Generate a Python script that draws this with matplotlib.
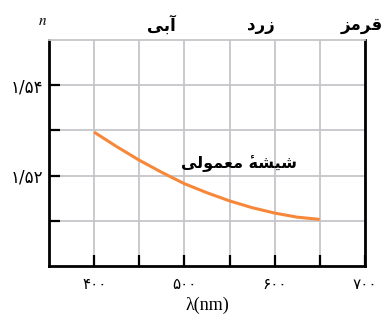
"""
ضریب شکست شیشهٔ معمولی بر حسب طول موج (نمودار کتاب فیزیک).
متن فارسی دستی شکل‌دهی می‌شود چون matplotlib شکل‌دهی عربی ندارد.
"""
import matplotlib
matplotlib.use("Agg")
import matplotlib.pyplot as plt
from matplotlib.ticker import FixedLocator

# داده‌ها (از روی شکل خوانده شده)
wavelength = [400, 425, 450, 475, 500, 525, 550, 575, 600, 625, 650]
n_glass = [1.5296, 1.5264, 1.5234, 1.5207, 1.5182, 1.5162, 1.5144, 1.5129, 1.5117, 1.5108, 1.5103]
xticks_major = [400, 500, 600, 700]
xticks_minor = [450, 550, 650]
yticks_major = [1.52, 1.54]
yticks_minor = [1.51, 1.53]
color_names = ["آبی", "زرد", "قرمز"]
color_pos = [475, 585, 697]
curve_label = "شیشهٔ معمولی"
xlabel = "λ(nm)"

# فرم‌های نمایشی: منفرد، پایانی، آغازی، میانی
FORMS = {
    "آ": "\uFE81\uFE82", "ب": "\uFE8F\uFE90\uFE91\uFE92",
    "ی": "\uFEEF\uFEF0\uFEF3\uFEF4", "ز": "\uFEAF\uFEB0",
    "ر": "\uFEAD\uFEAE", "د": "\uFEA9\uFEAA",
    "ق": "\uFED5\uFED6\uFED7\uFED8", "م": "\uFEE1\uFEE2\uFEE3\uFEE4",
    "ش": "\uFEB5\uFEB6\uFEB7\uFEB8", "ه": "\uFEE9\uFEEA\uFEEB\uFEEC",
    "ع": "\uFEC9\uFECA\uFECB\uFECC", "و": "\uFEED\uFEEE",
    "ل": "\uFEDD\uFEDE\uFEDF\uFEE0",
}
MARKS = "\u0654"   # همزهٔ روی حرف

def shape(text):
    words = []
    for w in text.split(" "):
        clusters = []
        for ch in w:
            if ch in MARKS:
                clusters[-1][1] += ch
            else:
                clusters.append([ch, ""])
        out = []
        for i, (ch, mk) in enumerate(clusters):
            f = FORMS[ch]
            prev_joins = i > 0 and len(FORMS[clusters[i - 1][0]]) == 4
            next_joins = i < len(clusters) - 1 and len(f) == 4
            form = f[(1 if prev_joins else 0) + (2 if next_joins else 0)]
            out.append(mk + form)   # علامت پیش از حرف تا روی همان حرف بنشیند
        words.append("".join(reversed(out)))
    return " ".join(reversed(words))

def fa_num(v):
    s = f"{v:g}"
    return s.translate(str.maketrans("0123456789.", "۰۱۲۳۴۵۶۷۸۹/"))

plt.rcParams["mathtext.fontset"] = "stix"
GRID = "#c6c6ca"
ORANGE = "#f7883a"

fig = plt.figure(figsize=(3.89, 3.22), dpi=100)
ax = fig.add_axes([0.126, 0.174, 0.812, 0.702])
ax.set_xlim(350, 700)
ax.set_ylim(1.50, 1.55)

ax.plot(wavelength, n_glass, color=ORANGE, lw=2.2, solid_capstyle="butt", zorder=3)

ax.xaxis.set_major_locator(FixedLocator(xticks_major))
ax.xaxis.set_minor_locator(FixedLocator(xticks_minor))
ax.yaxis.set_major_locator(FixedLocator(yticks_major))
ax.yaxis.set_minor_locator(FixedLocator(yticks_minor))
ax.set_xticklabels([fa_num(v) for v in xticks_major], family="DejaVu Sans", fontsize=11)
ax.set_yticklabels([fa_num(v) for v in yticks_major], family="DejaVu Sans", fontsize=12)
ax.tick_params(which="both", direction="in", length=8, width=1.6, color="black")
ax.tick_params(axis="x", which="both", pad=8)
ax.tick_params(axis="y", which="both", pad=4)
ax.grid(which="both", color=GRID, lw=1.3)
ax.set_axisbelow(True)

for s in ("left", "bottom", "right"):
    ax.spines[s].set_linewidth(2.0)
ax.spines["top"].set_color(GRID)
ax.spines["top"].set_linewidth(1.3)

ax.set_xlabel(xlabel, family="Liberation Serif", fontsize=13, labelpad=3)

for name, x in zip(color_names, color_pos):
    ax.text(x, 1.5533, shape(name), ha="center", va="center", fontsize=12,
            fontweight="bold", family="DejaVu Sans", clip_on=False)
ax.text(343, 1.5544, "$n$", ha="center", va="center", fontsize=11, clip_on=False)
ax.text(560, 1.5228, shape(curve_label), ha="center", va="center", fontsize=11.5,
        fontweight="bold", family="DejaVu Sans")

fig.savefig("out.png", dpi=100)
